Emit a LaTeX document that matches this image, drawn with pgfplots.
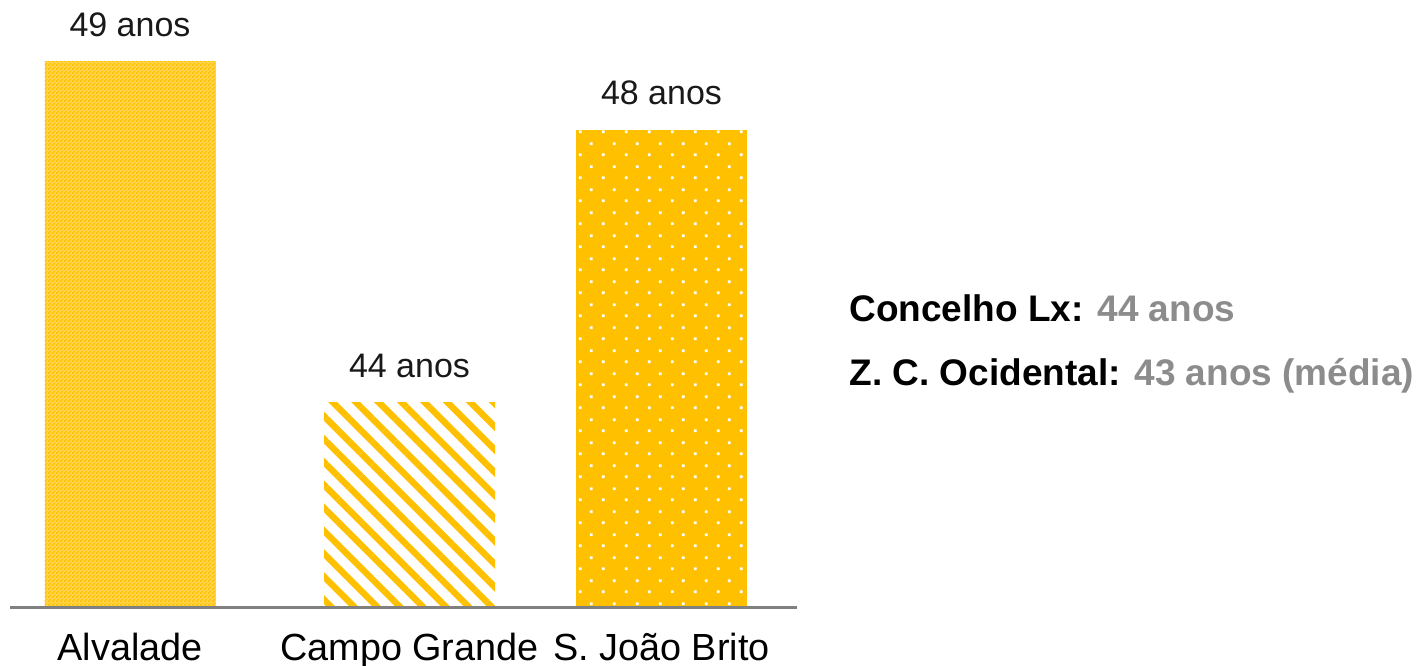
\documentclass[border=0pt]{standalone}
\usepackage{fontspec}
\setmainfont{Liberation Sans}
\usepackage{pgfplots}
\pgfplotsset{compat=1.18}
\usetikzlibrary{patterns,patterns.meta}
\definecolor{gold}{HTML}{FFC000}
\definecolor{txtgray}{HTML}{8C8C8C}
\definecolor{axgray}{HTML}{808080}

\pgfdeclarepattern{
  name=checker,
  type=uncolored,
  bottom left={\pgfpoint{0pt}{0pt}},
  top right={\pgfpoint{2pt}{2pt}},
  tile size={\pgfpoint{2pt}{2pt}},
  code={
    \pgfpathrectangle{\pgfpoint{0pt}{0pt}}{\pgfpoint{1pt}{1pt}}
    \pgfpathrectangle{\pgfpoint{1pt}{1pt}}{\pgfpoint{1pt}{1pt}}
    \pgfusepath{fill}
  }
}
\pgfdeclarepattern{
  name=staggerdots,
  type=uncolored,
  bottom left={\pgfpoint{0pt}{0pt}},
  top right={\pgfpoint{11.5pt}{11.5pt}},
  tile size={\pgfpoint{11.5pt}{11.5pt}},
  code={
    \pgfpathrectangle{\pgfpoint{2pt}{2pt}}{\pgfpoint{1.4pt}{1.4pt}}
    \pgfpathrectangle{\pgfpoint{7.75pt}{7.75pt}}{\pgfpoint{1.4pt}{1.4pt}}
    \pgfusepath{fill}
  }
}

\begin{document}
\begin{tikzpicture}
\begin{axis}[
  scale only axis,
  width=708pt, height=332.5pt,
  xmin=0, xmax=1416,
  ymin=40.1496, ymax=49.9003,
  y coord trafo/.code={\pgfmathparse{#1-41}},
  y coord inv trafo/.code={\pgfmathparse{#1+41}},
  axis line style={draw=none},
  tick style={draw=none},
  major tick length=0pt,
  ytick=\empty,
  xtick={130,409.5,661.5},
  xticklabels={Alvalade, Campo Grande, S. João Brito},
  xticklabel style={anchor=base, yshift=2.5pt, font=\fontsize{18.9}{22}\selectfont},
  ybar, bar width=85.5pt, bar shift=0pt,
  clip=false,
  point meta=rawy,
  /pgf/number format/assume math mode=true,
  nodes near coords={\pgfmathprintnumber{\pgfplotspointmeta} anos},
  every node near coord/.append style={anchor=base, yshift=12.5pt, font=\fontsize{17}{20}\selectfont, text=black!90},
]
\addplot[draw=none, fill=gold!70, postaction={pattern=checker, pattern color=gold}] coordinates {(130,49)};
\addplot[draw=none, fill=white, postaction={pattern={Lines[angle=-45, distance=8.1pt, line width=3.2pt]}, pattern color=gold}] coordinates {(409.5,44)};
\addplot[draw=none, fill=gold, postaction={pattern=staggerdots, pattern color=white}] coordinates {(661.5,48)};
\draw[axgray, line width=1.5pt] (axis cs:10,41) -- (axis cs:797,41);
\node[anchor=base west, inner sep=0pt, font=\fontsize{18.5}{22}\selectfont\bfseries] at (axis cs:849,45.18) {Concelho Lx: \textcolor{txtgray}{44 anos}};
\node[anchor=base west, inner sep=0pt, font=\fontsize{18.5}{22}\selectfont\bfseries] at (axis cs:849,44.25) {Z. C. Ocidental: \textcolor{txtgray}{43 anos (média)}};
\end{axis}
\pgfresetboundingbox
\useasboundingbox (current axis.south west) rectangle (current axis.north east);
\end{tikzpicture}
\end{document}
